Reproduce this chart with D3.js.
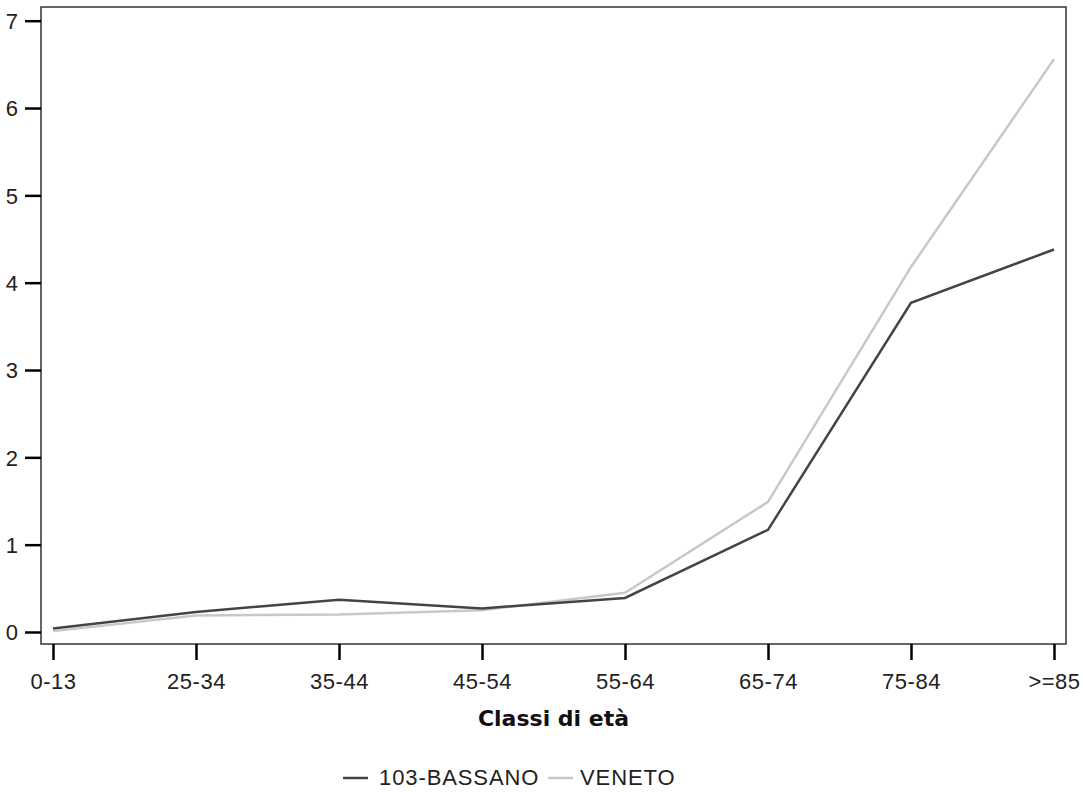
<!DOCTYPE html>
<html><head><meta charset="utf-8">
<script src="https://cdn.jsdelivr.net/npm/d3@7"></script>
<style>body{margin:0;background:#fff}svg{display:block}</style>
</head><body>
<svg id="c" width="1083" height="792"></svg>
<script>
const categories = ["0-13","25-34","35-44","45-54","55-64","65-74","75-84",">=85"];
const bassano = [0.04,0.23,0.37,0.27,0.39,1.17,3.77,4.38];
const veneto  = [0.01,0.19,0.20,0.25,0.45,1.49,4.18,6.56];
const yTicks = [0,1,2,3,4,5,6,7];
const seriesNames = ["103-BASSANO","VENETO"];
const seriesColors = ["#444444","#c8c8c8"];

const svg = d3.select("#c");
const frame = {l:41, r:1066, t:7, b:644};
const x = d3.scalePoint().domain(categories).range([53,1054]);
const y = d3.scaleLinear().domain([0,7]).range([632,20.7]);
const font = "'Liberation Sans', Arial, sans-serif";

// lines
const line = d3.line().x((d,i)=>x(categories[i])).y(d=>y(d));
[veneto, bassano].forEach((s,k)=>{
  const idx = k===0 ? 1 : 0;
  svg.append("path").attr("d", line(s)).attr("fill","none")
    .attr("stroke", seriesColors[idx]).attr("stroke-width",2.5)
    .attr("stroke-linejoin","miter");
});

// frame
svg.append("rect").attr("x",frame.l).attr("y",frame.t)
  .attr("width",frame.r-frame.l).attr("height",frame.b-frame.t)
  .attr("fill","none").attr("stroke","#333").attr("stroke-width",1.5);

// y axis
const yAxis = d3.axisLeft(y).tickValues(yTicks).tickSize(16).tickPadding(7).tickFormat(d3.format("d"));
const gy = svg.append("g").attr("transform",`translate(${frame.l},0)`).call(yAxis);
gy.select(".domain").remove();
gy.selectAll(".tick line").attr("stroke","#000").attr("stroke-width",2.5);
gy.selectAll(".tick text").attr("font-family",font).attr("font-size",22).attr("fill","#222")
  .attr("dy","0.36em");

// x axis
const xAxis = d3.axisBottom(x).tickSize(16).tickPadding(13);
const gx = svg.append("g").attr("transform",`translate(0,${frame.b})`).call(xAxis);
gx.select(".domain").remove();
gx.selectAll(".tick line").attr("stroke","#000").attr("stroke-width",2.5);
gx.selectAll(".tick text").attr("font-family",font).attr("font-size",22).attr("fill","#222")
  .attr("letter-spacing","0.5px");

// axis title
svg.append("text").attr("x",(frame.l+frame.r)/2).attr("y",726).attr("text-anchor","middle")
  .attr("font-family","'DejaVu Sans', sans-serif").attr("font-weight","bold").attr("font-size",22)
  .attr("fill","#111").text("Classi di età");

// legend
const leg = svg.append("g");
const items = [{x:343, tx:379},{x:548, tx:580}];
seriesNames.forEach((n,i)=>{
  leg.append("line").attr("x1",items[i].x).attr("x2",items[i].x+25).attr("y1",778).attr("y2",778)
    .attr("stroke",seriesColors[i]).attr("stroke-width",2.5);
  leg.append("text").attr("x",items[i].tx).attr("y",785).attr("font-family",font).attr("font-size",22)
    .attr("letter-spacing","0.9px").attr("fill","#222").text(n);
});
</script>
</body></html>
